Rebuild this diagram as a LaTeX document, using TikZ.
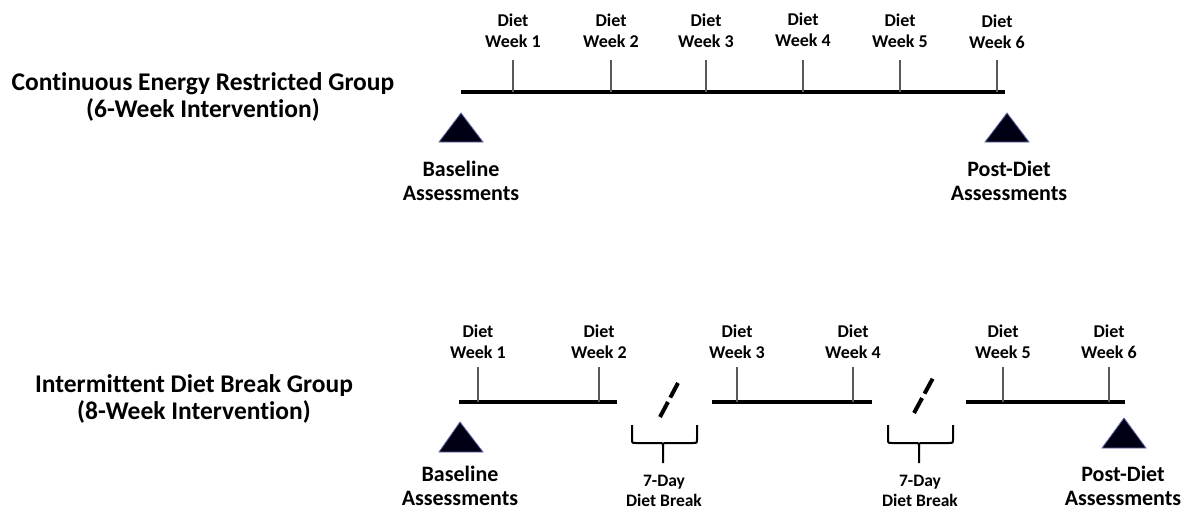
\documentclass[tikz,border=0pt]{standalone}
\usepackage{fontspec}
\setmainfont{Carlito}[Ligatures=NoCommon]
\begin{document}
\begin{tikzpicture}[x=1pt,y=-1pt,
  grp/.style={font=\bfseries\fontsize{25.5}{27}\selectfont, align=center, inner sep=0pt},
  wk/.style={font=\bfseries\fontsize{18}{21}\selectfont, align=center, inner sep=0pt},
  asm/.style={font=\bfseries\fontsize{22}{24.5}\selectfont, align=center, inner sep=0pt},
  brk/.style={font=\bfseries\fontsize{17.5}{20.5}\selectfont, align=center, inner sep=0pt},
  axis/.style={line width=4.5pt, line cap=butt},
  tick/.style={draw=black!65, line width=1.1pt},
  tri/.style={fill=black!92!blue, draw=black!55!blue!60, line width=0.8pt, line join=miter},
  slash/.style={line width=4pt, dash pattern=on 17pt off 5pt},
  brc/.pic={
    \draw[line width=2pt, line join=round]
      (-31,0) -- (-31,14) .. controls (-31,18) .. (-27,18) -- (-4,18)
      .. controls (0,18) .. (0,22) -- (0,38);
    \draw[line width=2pt, line join=round]
      (34,0) -- (34,14) .. controls (34,18) .. (30,18) -- (4,18)
      .. controls (0,18) .. (0,22);
  }]
\useasboundingbox (0,0) rectangle (1190,511);

% ---------- Top group ----------
\node[grp] (g1) at (203,97) {Continuous Energy Restricted Group\\(6-Week Intervention)};

\coordinate (a1s) at (461,92);
\coordinate (a1e) at (1005,92);
\draw[axis] (a1s) -- (a1e);

\foreach \i/\x/\y in {1/513/31, 2/611/31, 3/706/31, 4/803/30, 5/900/31, 6/997/32} {
  \node[wk] (tw\i) at (\x,\y) {Diet\\Week \i};
  \coordinate (tt\i) at (\x,60);
  \coordinate (tb\i) at (\x,92);
  \draw[tick] (tt\i) -- (tb\i);
}

\coordinate (tA1) at (461,113);
\coordinate (tA2) at (439,142);
\coordinate (tA3) at (483,142);
\draw[tri] (tA1) -- (tA2) -- (tA3) -- cycle;
\coordinate (tB1) at (1007,113);
\coordinate (tB2) at (985,142);
\coordinate (tB3) at (1029,142);
\draw[tri] (tB1) -- (tB2) -- (tB3) -- cycle;

\node[asm] (base1) at (461,181) {Baseline\\Assessments};
\node[asm] (post1) at (1009,181) {Post-Diet\\Assessments};

% ---------- Bottom group ----------
\node[grp] (g2) at (194,399) {Intermittent Diet Break Group\\(8-Week Intervention)};

\coordinate (s1s) at (459,402);
\coordinate (s1e) at (617,402);
\coordinate (s2s) at (712,402);
\coordinate (s2e) at (872,402);
\coordinate (s3s) at (966,402);
\coordinate (s3e) at (1125,402);
\draw[axis] (s1s) -- (s1e);
\draw[axis] (s2s) -- (s2e);
\draw[axis] (s3s) -- (s3e);

\foreach \i/\x in {1/478, 2/599, 3/737, 4/853, 5/1003, 6/1109} {
  \node[wk] (bw\i) at (\x,342) {Diet\\Week \i};
  \coordinate (bt\i) at (\x,367);
  \coordinate (bb\i) at (\x,402);
  \draw[tick] (bt\i) -- (bb\i);
}

% breaks
\coordinate (k1a) at (660,417);
\coordinate (k1b) at (678,383);
\draw[slash] (k1a) -- (k1b);
\coordinate (k2a) at (914,413);
\coordinate (k2b) at (933,378);
\draw[slash] (k2a) -- (k2b);

\pic at (663,425) {brc};
\pic at (919,425) {brc};

\node[brk] (br1) at (664,491) {7-Day\\Diet Break};
\node[brk] (br2) at (920,491) {7-Day\\Diet Break};

\coordinate (bA1) at (460,422);
\coordinate (bA2) at (439,452);
\coordinate (bA3) at (483,452);
\draw[tri] (bA1) -- (bA2) -- (bA3) -- cycle;
\coordinate (bB1) at (1124,418);
\coordinate (bB2) at (1102,448);
\coordinate (bB3) at (1146,448);
\draw[tri] (bB1) -- (bB2) -- (bB3) -- cycle;

\node[asm] (base2) at (460,486) {Baseline\\Assessments};
\node[asm] (post2) at (1123,486) {Post-Diet\\Assessments};
\end{tikzpicture}
\end{document}
